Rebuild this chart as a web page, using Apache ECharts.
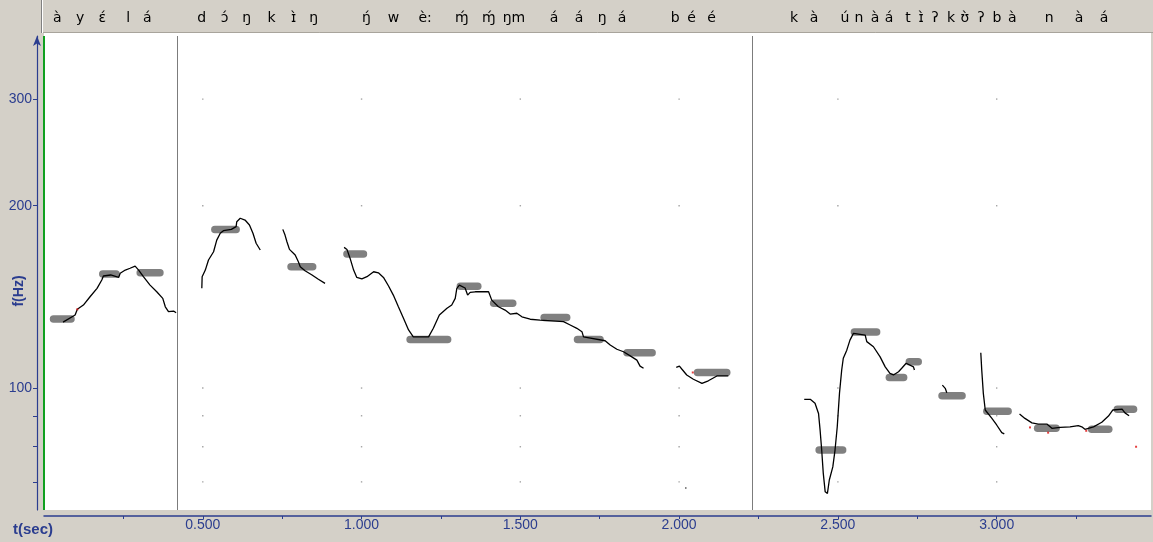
<!DOCTYPE html>
<html><head><meta charset="utf-8">
<script src="https://cdn.jsdelivr.net/npm/echarts@6/dist/echarts.min.js"></script>
<style>html,body{margin:0;padding:0;background:#d4d0c8;overflow:hidden}#c{width:1153px;height:542px}</style>
</head><body><div id="c"></div>
<script>
// ---------- axis ticks ----------
const xLabelTicks = [0.5, 1.0, 1.5, 2.0, 2.5, 3.0];
const xTickValues = [0.25, 0.5, 0.75, 1.0, 1.25, 1.5, 1.75, 2.0, 2.25, 2.5, 2.75, 3.0, 3.25];
const yLabelTicks = [100, 200, 300];
const yTickValues = [70, 80, 90, 100, 200, 300];
const xRange = [0, 3.486];
const yRange = [62.9, 381.3];

// ---------- pitch contour segments [t (s), f (Hz)] ----------
const contourA = [[0.060,128.5],[0.098,132.0],[0.105,134.9],[0.124,137.1],[0.145,141.5],[0.167,146.1],[0.182,150.8],[0.187,153.1],[0.210,153.7],[0.235,152.3],[0.240,154.7],[0.256,156.6],[0.271,157.7],[0.287,159.0],[0.298,156.6],[0.313,152.7],[0.334,147.9],[0.355,144.2],[0.374,140.6],[0.382,136.2],[0.392,133.7],[0.408,134.0],[0.416,133.1]];
const contourB = [[0.497,146.1],[0.498,152.7],[0.508,156.6],[0.518,162.7],[0.534,167.9],[0.544,175.5],[0.555,180.1],[0.565,181.9],[0.590,182.8],[0.605,184.7],[0.607,188.2],[0.618,190.7],[0.633,189.4],[0.647,185.9],[0.658,180.1],[0.668,173.4],[0.681,169.0]];
const contourC = [[0.752,182.8],[0.759,178.9],[0.765,174.4],[0.773,169.4],[0.791,165.8],[0.801,161.6],[0.807,158.6],[0.822,156.2],[0.844,153.7],[0.864,151.2],[0.885,148.9]];
const contourD = [[0.945,170.7],[0.954,169.4],[0.964,163.7],[0.975,156.6],[0.985,152.3],[1.001,151.4],[1.017,152.7],[1.038,155.6],[1.053,155.0],[1.069,152.3],[1.085,147.4],[1.100,142.4],[1.116,136.2],[1.132,130.4],[1.148,124.7],[1.163,121.5],[1.211,121.5],[1.226,125.5],[1.245,132.0],[1.269,135.4],[1.284,137.1],[1.295,140.6],[1.300,146.1],[1.308,147.9],[1.326,146.3],[1.334,142.4],[1.342,143.9],[1.358,144.2],[1.400,144.2],[1.410,139.7],[1.431,136.2],[1.452,134.5],[1.468,132.5],[1.489,132.9],[1.505,131.1],[1.531,129.9],[1.562,129.5],[1.636,128.7],[1.657,127.1],[1.678,125.5],[1.694,123.9],[1.699,121.5],[1.767,119.7],[1.783,117.8],[1.804,115.9],[1.825,114.8],[1.851,112.6],[1.867,111.2],[1.877,108.7],[1.888,107.8]];
const contourE = [[1.991,108.2],[2.001,108.7],[2.009,107.4],[2.024,105.1],[2.045,103.4],[2.072,101.8],[2.092,102.8],[2.119,104.7],[2.140,104.7],[2.155,104.7]];
const contourF = [[2.394,95.8],[2.413,95.8],[2.428,94.4],[2.439,90.8],[2.444,85.2],[2.449,79.0],[2.454,72.3],[2.460,67.4],[2.467,67.0],[2.473,70.5],[2.484,74.1],[2.491,79.0],[2.498,86.3],[2.505,98.0],[2.512,107.1],[2.517,112.0],[2.528,115.5],[2.538,120.0],[2.549,123.1],[2.586,122.3],[2.591,119.3],[2.612,117.0],[2.633,112.6],[2.649,108.4],[2.664,105.7],[2.675,105.1],[2.691,106.4],[2.701,107.8],[2.715,109.9],[2.738,108.4],[2.741,107.1]];
const contourG = [[2.829,101.1],[2.838,99.9],[2.843,98.2]];
const contourH = [[2.950,114.4],[2.953,107.1],[2.958,98.0],[2.964,92.0],[2.985,89.1],[3.000,86.9],[3.016,84.4],[3.024,84.0]];
const contourI = [[3.072,90.6],[3.089,89.1],[3.111,87.6],[3.131,87.2],[3.158,87.2],[3.174,85.8],[3.200,86.1],[3.231,86.3],[3.257,86.7],[3.268,86.3],[3.278,85.5],[3.305,86.3],[3.331,87.8],[3.352,89.9],[3.366,92.0],[3.395,92.3],[3.404,91.0],[3.417,90.0]];
const contours = [contourA, contourB, contourC, contourD, contourE, contourF, contourG, contourH, contourI];

// ---------- level bars ----------
const barStart = [0.030,0.185,0.303,0.538,0.778,0.954,1.153,1.311,1.416,1.575,1.680,1.836,2.058,2.441,2.552,2.662,2.725,2.828,2.969,3.129,3.299,3.380];
const barEnd   = [0.085,0.227,0.365,0.605,0.846,1.006,1.271,1.366,1.476,1.646,1.751,1.915,2.150,2.515,2.622,2.707,2.753,2.891,3.036,3.187,3.353,3.431];
const barHz    = [130.0,154.3,155.0,182.8,158.6,166.4,120.3,147.2,138.0,130.8,120.3,114.4,106.1,79.0,123.7,104.1,110.5,97.1,91.6,85.8,85.5,92.3];

// ---------- small points ----------
const redDots = [[0.105,134.9],[2.043,106.1],[3.105,86.1],[3.162,84.4],[3.282,85.0],[3.439,80.0]];
const strayDots = [[2.021,68.4]];

// ---------- boundaries ----------
const boundaryTimes = [0.4225, 2.232];
const cursorTime = 0.003;

// ---------- transcription ----------
const segLabels = ['à','y','ɛ́','l','á','d','ɔ́','ŋ','k','ɪ̀','ŋ','ŋ́','w','è:','ɱ́','ɱ́','ŋm','á','á','ŋ','á','b','é','é','k','à','ú','n','à','á','t','ɪ̀','ʔ','k','ʊ̀','ʔ','b','à','n','à','á'];
const segLabelTimes = [0.0416,0.1140,0.1832,0.2651,0.3249,0.4962,0.5686,0.6379,0.7166,0.7859,0.8489,1.0157,1.1008,1.2002,1.3160,1.4010,1.4800,1.6064,1.6851,1.7576,1.8205,1.9880,2.0390,2.1020,2.3620,2.4250,2.5220,2.5660,2.6170,2.6610,2.7210,2.7620,2.8060,2.8560,2.9000,2.9510,3.0010,3.0490,3.1650,3.2590,3.3380];

const NAVY = '#2b3d8f';
const chart = echarts.init(document.getElementById('c'));

const gridDots = [];
xLabelTicks.forEach(t => yTickValues.forEach(f => gridDots.push([t, f])));

const series = [];
series.push({
  type: 'scatter', data: gridDots, symbol: 'rect', symbolSize: 1.4,
  itemStyle: { color: '#8c8c8c' }, silent: true, z: 1,
  markLine: {
    silent: true, symbol: ['none', 'none'], label: { show: false },
    data: boundaryTimes.map(t => ({ xAxis: t, lineStyle: { color: '#7c7c7c', width: 1, type: 'solid' } }))
      .concat([{ xAxis: cursorTime, lineStyle: { color: '#10a020', width: 2, type: 'solid' } }])
  }
});
barStart.forEach((s, i) => {
  series.push({
    type: 'line', data: [[s, barHz[i]], [barEnd[i], barHz[i]]], symbol: 'none', silent: true, z: 2,
    lineStyle: { color: '#808080', width: 7.5, cap: 'round' }
  });
});
contours.forEach(seg => {
  series.push({
    type: 'line', data: seg, symbol: 'none', silent: true, z: 3,
    lineStyle: { color: '#000', width: 1.3 }
  });
});
series.push({ type: 'scatter', data: redDots, symbol: 'rect', symbolSize: 2, itemStyle: { color: '#e01010' }, silent: true, z: 4 });
series.push({ type: 'scatter', data: strayDots, symbol: 'rect', symbolSize: 1.5, itemStyle: { color: '#303030' }, silent: true, z: 4 });

chart.setOption({
  animation: false,
  backgroundColor: '#d4d0c8',
  grid: { left: 44, right: 2, top: 36, bottom: 32, show: true, backgroundColor: '#ffffff', borderWidth: 0 },
  xAxis: {
    type: 'value', min: xRange[0], max: xRange[1], offset: 6,
    axisLine: { show: true, onZero: false, lineStyle: { color: NAVY, width: 1.5 } },
    axisTick: { show: true, inside: false, length: 3, customValues: xTickValues, lineStyle: { color: NAVY } },
    axisLabel: { customValues: xLabelTicks, margin: 2, color: NAVY, fontSize: 14, fontFamily: 'Liberation Sans', formatter: v => v.toFixed(3) },
    splitLine: { show: false }
  },
  yAxis: {
    type: 'log', logBase: 2, min: yRange[0], max: yRange[1], offset: 7,
    axisLine: { show: true, onZero: false, symbol: ['none', 'arrow'], symbolSize: [6, 10], lineStyle: { color: NAVY, width: 1.2 } },
    axisTick: { show: true, inside: false, length: 4, customValues: yTickValues, lineStyle: { color: NAVY } },
    axisLabel: { customValues: yLabelTicks, margin: 5, color: NAVY, fontSize: 14, fontFamily: 'Liberation Sans', formatter: v => String(Math.round(v)) },
    splitLine: { show: false }, minorTick: { show: false }
  },
  series: series
});

const graphics = [
  { type: 'rect', shape: { x: 44, y: 33, width: 1107, height: 3 }, style: { fill: '#ffffff' }, silent: true },
  { type: 'line', shape: { x1: 42, y1: 32.5, x2: 1153, y2: 32.5 }, style: { stroke: '#a8a49c', lineWidth: 1 }, silent: true },
  { type: 'line', shape: { x1: 41.5, y1: 0, x2: 41.5, y2: 33 }, style: { stroke: '#808080', lineWidth: 1 }, silent: true },
  { type: 'line', shape: { x1: 42.5, y1: 0, x2: 42.5, y2: 33 }, style: { stroke: '#ffffff', lineWidth: 1 }, silent: true },
  { type: 'text', x: 19, y: 291, rotation: Math.PI / 2, style: { text: 'f(Hz)', fill: NAVY, font: 'bold 14px "Liberation Sans"', textAlign: 'center', textVerticalAlign: 'middle' }, silent: true },
  { type: 'text', x: 13, y: 530, style: { text: 't(sec)', fill: NAVY, font: 'bold 15px "Liberation Sans"', textAlign: 'left', textVerticalAlign: 'middle' }, silent: true }
];
segLabels.forEach((lab, i) => {
  const px = chart.convertToPixel({ xAxisIndex: 0 }, segLabelTimes[i]);
  graphics.push({ type: 'text', x: px, y: 18, style: { text: lab, fill: '#000', font: '14px "DejaVu Sans"', textAlign: 'center', textVerticalAlign: 'middle' }, silent: true });
});
chart.setOption({ graphic: graphics });
</script></body></html>
